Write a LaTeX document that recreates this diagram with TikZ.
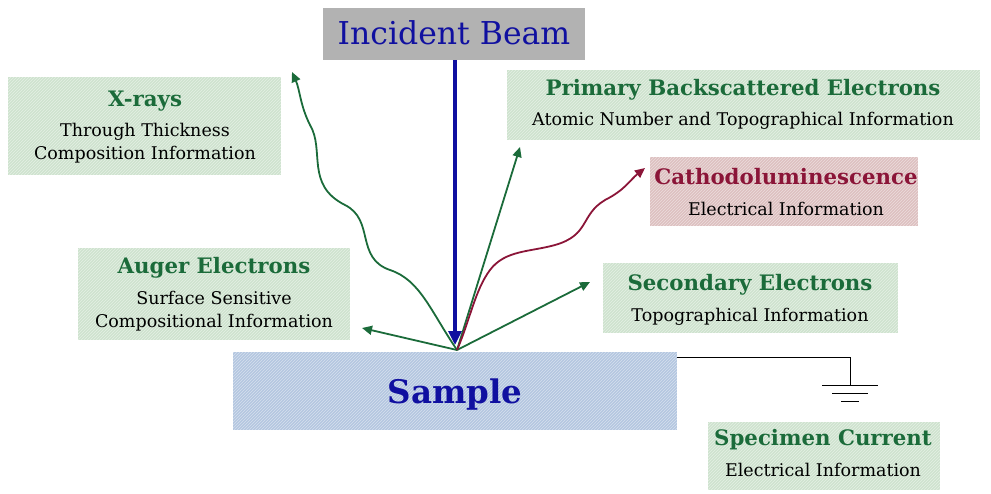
\documentclass[tikz,border=0pt]{standalone}
\usepackage{fontspec}
\setmainfont{DejaVu Serif}
\usetikzlibrary{patterns,arrows.meta}
\definecolor{dg}{HTML}{1B6B3A}
\definecolor{lg}{HTML}{CFE3CF}
\definecolor{pk}{HTML}{DDC0C0}
\definecolor{dr}{HTML}{8B1538}
\definecolor{bb}{HTML}{1010A0}
\definecolor{sb}{HTML}{B4C6E0}
\begin{document}
\begin{tikzpicture}[x=1pt,y=-1pt,
 hatch/.style={postaction={pattern=north east lines,pattern color=white,opacity=0.45}},
 ttl/.style={text=dg,font=\fontsize{21.3}{24}\selectfont\bfseries},
 sub/.style={font=\fontsize{17.5}{23}\selectfont,align=center},
 arr/.style={dg,line width=1.8pt,-{Triangle[length=10pt,width=9pt]}}]
\useasboundingbox (0,0) rectangle (991,493);
% boxes
\fill[lg,hatch] (8,77) rectangle (281,175);
\fill[lg,hatch] (507,70) rectangle (980,140);
\fill[pk,hatch] (650,157) rectangle (918,226);
\fill[lg,hatch] (78,248) rectangle (350,340);
\fill[lg,hatch] (603,263) rectangle (898,333);
\fill[lg,hatch] (708,422) rectangle (940,490);
\fill[sb,hatch] (233,352) rectangle (677,430);
\fill[black!30] (323,8) rectangle (585,60);
\node (ib) at (454,33) {\color{bb}\fontsize{31.5}{36}\selectfont Incident Beam};
\node (sample) at (455,395) {\color{bb}\fontsize{32.5}{36}\selectfont\bfseries Sample};
\coordinate (o) at (457,350);
% texts
\node[ttl] (xt) at (145,101) {X-rays};
\node[sub] (xs) at (145,143) {Through Thickness\\Composition Information};
\node[ttl] (pt) at (743,90) {Primary Backscattered Electrons};
\node[sub] (ps) at (743,121) {Atomic Number and Topographical Information};
\node[ttl,text=dr] (ct) at (786,177) {Cathodoluminescence};
\node[sub] (cs) at (786,209) {Electrical Information};
\node[ttl] (at) at (214,268) {Auger Electrons};
\node[sub] (as) at (214,311) {Surface Sensitive\\Compositional Information};
\node[ttl] (st) at (750,285) {Secondary Electrons};
\node[sub] (ss) at (750,317) {Topographical Information};
\node[ttl] (spt) at (823,440) {Specimen Current};
\node[sub] (sps) at (823,470) {Electrical Information};
% beam
\coordinate (bt) at (455,60);
\draw[bb,line width=3.2pt,-{Triangle[length=14pt,width=13pt]}] (bt) -- (455,345);
% arrows
\coordinate (xe) at (292,72);
\coordinate (pe) at (520,147);
\coordinate (ae) at (362,328);
\coordinate (se) at (590,282);
\coordinate (ce) at (645,168);
\draw[arr] (o) -- (pe);
\draw[arr] (o) -- (ae);
\draw[arr] (o) -- (se);
\draw[arr] (o) .. controls (430,310) and (420,280) .. (390,270)
 .. controls (355,258) and (375,220) .. (345,205)
 .. controls (305,185) and (325,150) .. (310,125)
 .. controls (300,105) and (300,90) .. (xe);
\draw[dr,line width=1.8pt,-{Triangle[length=10pt,width=9pt]}] (o) .. controls (470,320) and (475,290) .. (490,270)
 .. controls (505,250) and (530,252) .. (555,245)
 .. controls (590,235) and (580,215) .. (605,200)
 .. controls (625,190) and (630,180) .. (ce);
% ground
\coordinate (g) at (850,385);
\coordinate (sr) at (677,357);
\draw[line width=0.8pt] (sr) -- (850,357) -- (g);
\draw[line width=1pt] (822,385) -- (878,385) (832,393) -- (868,393) (841,401) -- (859,401);
\end{tikzpicture}
\end{document}
